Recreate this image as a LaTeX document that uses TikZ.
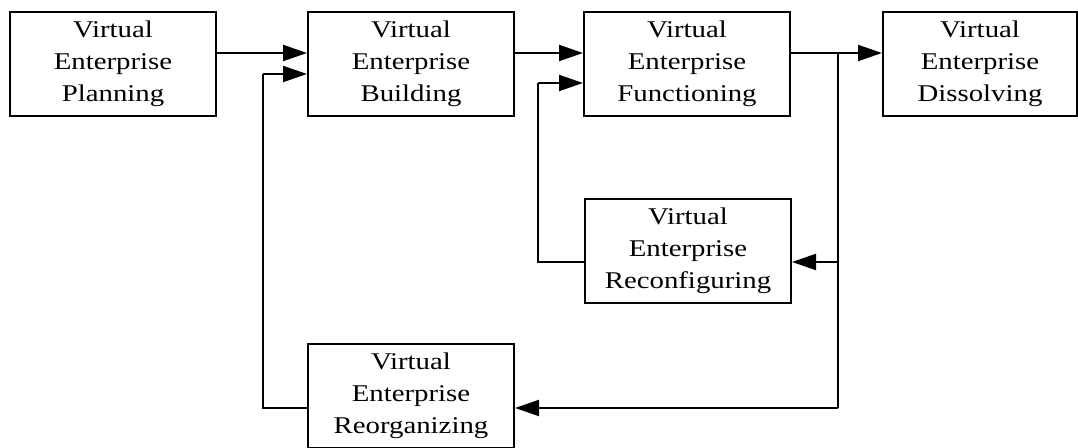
\documentclass[tikz,border=0pt]{standalone}
\usepackage{fontspec}
\setmainfont{Liberation Serif}[FakeStretch=1.2]
\usepackage{tikz}
\usetikzlibrary{arrows.meta}

\tikzset{
  phase/.style={shape=rectangle, draw=black, line width=1pt, align=center,
    minimum width=103pt, minimum height=52pt, inner sep=0pt,
    font=\fontsize{12}{16}\selectfont},
  flow/.style={-{Triangle[length=12pt,width=8pt]}, line width=1pt},
  back/.style={line width=0.6pt}
}

\begin{document}
\begin{tikzpicture}[x=0.5pt, y=-0.5pt]
\useasboundingbox (0,0) rectangle (1078,448);
\node[phase](P) at (113,64) {Virtual\\Enterprise\\Planning};
\node[phase](B) at (411,64) {Virtual\\Enterprise\\Building};
\node[phase](F) at (687,64) {Virtual\\Enterprise\\Functioning};
\node[phase, minimum width=97pt](D) at (980,64) {Virtual\\Enterprise\\Dissolving};
\node[phase](C) at (688,251) {Virtual\\Enterprise\\Reconfiguring};
\node[phase](O) at (411,396) {Virtual\\Enterprise\\Reorganizing};
\coordinate (S1) at (838,53);
\coordinate (S2) at (838,408);
\draw[flow] ([yshift=5.5pt]P.east) -- ([yshift=5.5pt]B.west);
\draw[flow] ([yshift=5.5pt]B.east) -- ([yshift=5.5pt]F.west);
\draw[flow] ([yshift=5.5pt]F.east) -- ([yshift=5.5pt]D.west);
\draw[line width=1pt] (S1) -- (S2);
\draw[flow] (S1 |- C.east) ++(0,11) -- ([yshift=-5.5pt]C.east);
\draw[flow] (S2) -- (O.east |- S2);
\draw[back] ([yshift=-5.5pt]C.west) -| (538,83);
\draw[flow] (538,83) -- (F.west |- 0,83);
\draw[back] (O.west |- S2) -| (263,74);
\draw[flow] (263,74) -- (B.west |- 0,74);
\end{tikzpicture}
\end{document}
